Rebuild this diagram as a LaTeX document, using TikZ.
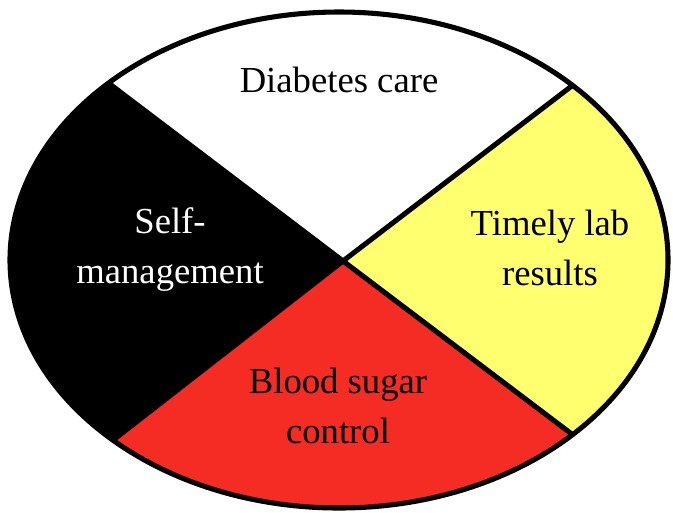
\documentclass[tikz,border=0pt]{standalone}
\usepackage{fontspec}
\setmainfont{Liberation Serif}
\usepackage{xcolor}
\usepackage{tikz}
\usetikzlibrary{positioning}

\definecolor{wheelred}{RGB}{244,44,36}
\definecolor{wheelyellow}{RGB}{255,255,112}

\tikzset{
  label text/.style={align=center, font=\fontsize{27.5}{37.5}\selectfont, inner sep=0pt},
  rim/.style={line width=3.8pt}
}

\begin{document}
\begin{tikzpicture}[x=0.75pt, y=-0.75pt]
        \useasboundingbox (0,0) rectangle (673,512);

        % Hub and spoke ends
        \coordinate (hub) at (343,261);
        \coordinate (ul) at (-113,-85);
        \coordinate (ur) at (803,-91);
        \coordinate (ll) at (-109,613);
        \coordinate (lr) at (811,615);

        % Sectors
        \begin{scope}
          \clip (339,260) ellipse [x radius=246.75pt, y radius=186pt];
          \fill[white] (339,260) ellipse [x radius=246.75pt, y radius=186pt];
          \fill[black] (hub) -- (ul) -- (ll) -- cycle;
          \fill[wheelred] (hub) -- (ll) -- (lr) -- cycle;
          \fill[wheelyellow] (hub) -- (ur) -- (lr) -- cycle;
          \draw[rim] (hub) -- (ul);
          \draw[rim] (hub) -- (ur);
          \draw[rim] (hub) -- (ll);
          \draw[rim] (hub) -- (lr);
        \end{scope}
        \draw[rim] (339,260) ellipse [x radius=246.75pt, y radius=186pt];

        % Labels
        \node[label text] (care) at (339,80) {Diabetes care};
        \node[label text, text=white] (self) at (170,250) {Self-\\management};
        \node[label text] (lab) at (550,248) {Timely lab\\results};
        \node[label text] (sugar) at (338,406) {Blood sugar\\control};
      \end{tikzpicture}
\end{document}
